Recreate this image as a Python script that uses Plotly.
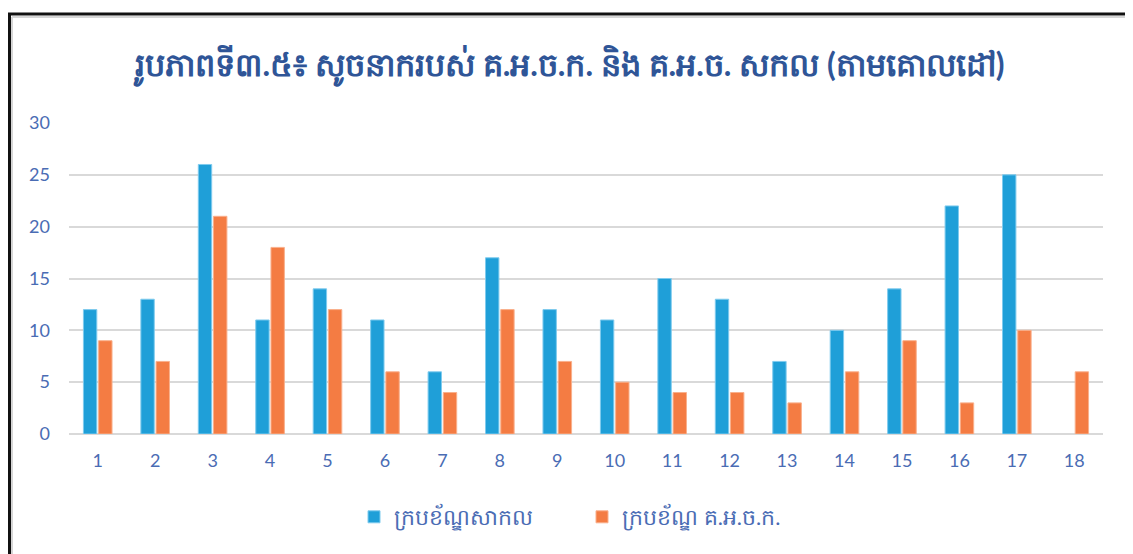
import plotly.graph_objects as go

categories = [str(i) for i in range(1, 19)]
global_values = [12, 13, 26, 11, 14, 11, 6, 17, 12, 11, 15, 13, 7, 10, 14, 22, 25, None]
csdg_values = [9, 7, 21, 18, 12, 6, 4, 12, 7, 5, 4, 4, 3, 6, 9, 3, 10, 6]
series_names = ["ក្របខ័ណ្ឌសាកល", "ក្របខ័ណ្ឌ គ.អ.ច.ក."]
title_text = "រូបភាពទី៣.៥៖ សូចនាករបស់ គ.អ.ច.ក. និង គ.អ.ច. សកល (តាមគោលដៅ)"

BLUE = "#1f9fd8"
ORANGE = "#f47c43"
TEXT = "#4a6cb4"
FONT = "Lato, 'Noto Sans', sans-serif"

fig = go.Figure()
fig.add_trace(go.Bar(x=categories, y=global_values, name=series_names[0],
                     marker=dict(color=BLUE, line=dict(color="#7fcbee", width=1))))
fig.add_trace(go.Bar(x=categories, y=csdg_values, name=series_names[1],
                     marker=dict(color=ORANGE, line=dict(color="#f9b08c", width=1))))

OFF = 8  # page body margin
W, H = 1133, 554
L, R, T, B = 69 - OFF, W - (1103 - OFF), 123 - OFF, H - (434 - OFF)
pw, ph = W - L - R, H - T - B

def px(x):
    return (x - OFF - L) / pw

def py(y):
    return (H - B - (y - OFF)) / ph

shapes = [
    dict(type="line", xref="paper", yref="paper", x0=px(9.5), x1=px(9.5), y0=py(14), y1=py(600),
         line=dict(color="#111111", width=3)),
    dict(type="line", xref="paper", yref="paper", x0=px(8), x1=px(1131), y0=py(14), y1=py(14),
         line=dict(color="#111111", width=3)),
    dict(type="line", xref="paper", yref="paper", x0=px(1130), x1=px(1130), y0=py(14), y1=py(600),
         line=dict(color="#9a9a9a", width=2)),
    dict(type="line", xref="paper", yref="paper", x0=px(12), x1=px(12), y0=py(17), y1=py(600),
         line=dict(color="#d6d6d6", width=2)),
    dict(type="line", xref="paper", yref="paper", x0=px(12), x1=px(1128), y0=py(17), y1=py(17),
         line=dict(color="#d6d6d6", width=2)),
]

fig.update_layout(
    width=W, height=H,
    margin=dict(l=L, r=R, t=T, b=B),
    paper_bgcolor="white", plot_bgcolor="white",
    barmode="group", bargap=0.47, bargroupgap=0.12,
    title=dict(text="<b>" + title_text + "</b>", x=(570 - OFF) / W, xref="container", xanchor="center",
               y=1 - (65 - OFF) / H, yanchor="middle",
               font=dict(family=FONT, size=32, color="#2f5597")),
    font=dict(family=FONT, size=17, color=TEXT),
    xaxis=dict(showgrid=False, showline=False, ticks="", tickfont=dict(size=18, color=TEXT),
               ticklabelstandoff=14),
    yaxis=dict(range=[0, 30], dtick=5, showgrid=True, gridcolor="#d9d9d9", gridwidth=2,
               zeroline=True, zerolinecolor="#d9d9d9", zerolinewidth=2, showline=False,
               ticks="", tickfont=dict(size=18, color=TEXT), ticklabelstandoff=18),
    legend=dict(orientation="h", x=px(354), xanchor="left", y=py(517), yanchor="middle",
                font=dict(size=22, color=TEXT), itemwidth=30, tracegroupgap=0,
                entrywidth=183),
    showlegend=True,
    shapes=shapes,
)

fig.write_html("out.html")
